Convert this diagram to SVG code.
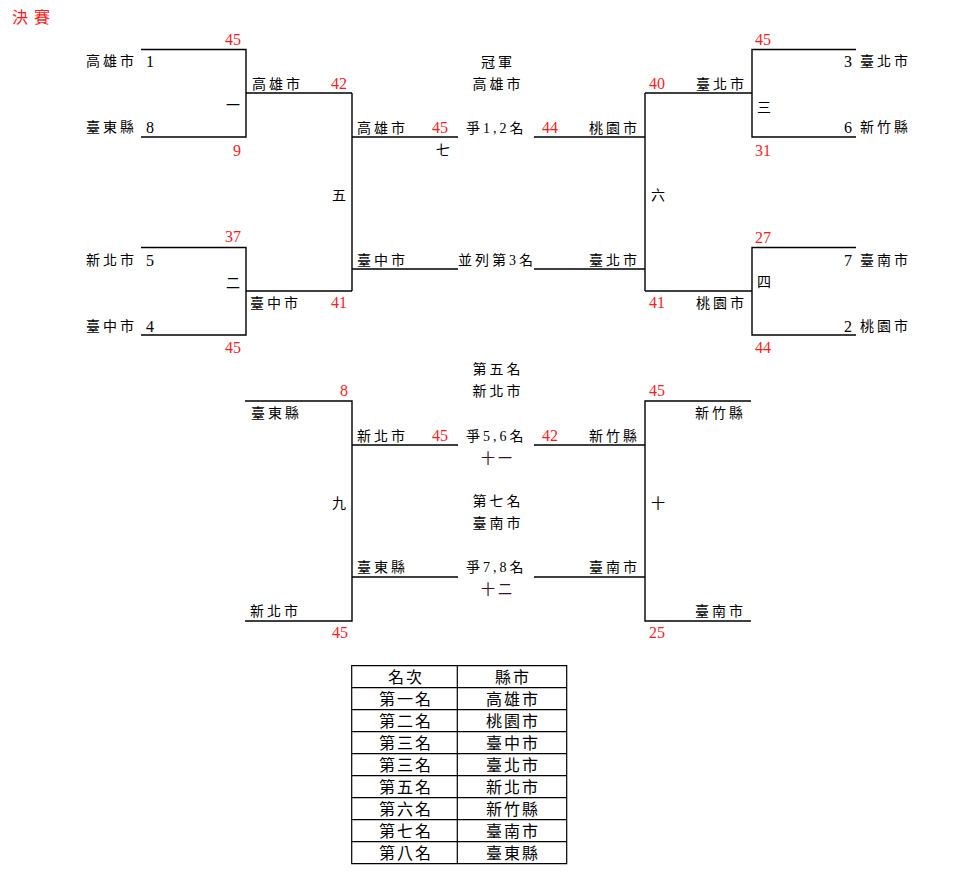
<svg xmlns="http://www.w3.org/2000/svg" width="958" height="886" viewBox="0 0 958 886">
<style>
text{font-family:'Liberation Serif','Noto Sans CJK TC',serif;font-size:14px;letter-spacing:3px;fill:#000}
.r{fill:#ff1a1a;font-size:16px;letter-spacing:0}
.n{font-size:16px;letter-spacing:0}
.c{text-anchor:middle}
.p{fill:#3d0f2f}
.ttl{fill:#ff1a1a;font-size:16px;letter-spacing:6px}
.tb{font-size:16px;letter-spacing:2px;text-anchor:middle}
.ln{fill:none;stroke:#000;stroke-width:1.4}
</style>
<rect width="958" height="886" fill="#fff"/>
<text class="ttl" x="12" y="23">決賽</text>
<g id="connectors" class="ln">
<path d="M141,49.5H246V137H141M246,93H352"/>
<path d="M141,247.5H246V335H141M246,291H352"/>
<path d="M352,93V291M352,137H458M352,269H458"/>
<path d="M534,137H645M534,269H645M645,93V291M645,93H752M645,291H752"/>
<path d="M856,49.5H752V137H856"/>
<path d="M856,247.5H752V335H856"/>
<path d="M245,401H352V621H245M352,445H458M352,577H458"/>
<path d="M534,445H645M534,577H645M751,401H645V621H751"/>
</g>
<g id="match1">
<text class="r" x="225" y="45">45</text>
<text x="86" y="66">高雄市</text><text class="n" x="146" y="67">1</text>
<text x="226" y="110">一</text>
<text x="86" y="132">臺東縣</text><text class="n" x="146" y="133">8</text>
<text class="r" x="233" y="156">9</text>
<text x="252" y="89">高雄市</text><text class="r" x="331" y="89">42</text>
</g>
<g id="match2">
<text class="r" x="225" y="242">37</text>
<text x="86" y="265">新北市</text><text class="n" x="146" y="266">5</text>
<text x="226" y="288">二</text>
<text x="86" y="331">臺中市</text><text class="n" x="146" y="332">4</text>
<text class="r" x="225" y="353">45</text>
<text x="250" y="308">臺中市</text><text class="r" x="331" y="308">41</text>
</g>
<g id="match5">
<text x="332" y="200">五</text>
<text x="357" y="133">高雄市</text><text class="r" x="432" y="133">45</text>
<text x="357" y="265">臺中市</text>
</g>
<g id="match7">
<text class="c" x="498" y="67">冠軍</text>
<text class="c" x="498" y="89">高雄市</text>
<text x="466" y="133">爭1,2名</text>
<text x="436" y="155">七</text>
<text x="458" y="265">並列第3名</text>
</g>
<g id="match6">
<text class="r" x="542" y="133">44</text><text x="589" y="133">桃園市</text>
<text x="589" y="265">臺北市</text>
<text x="651" y="200">六</text>
</g>
<g id="match3">
<text class="r" x="649" y="89">40</text><text x="696" y="89">臺北市</text>
<text class="r" x="755" y="45">45</text>
<text class="n" x="844" y="67">3</text><text x="860" y="66">臺北市</text>
<text x="757" y="112">三</text>
<text class="n" x="844" y="133">6</text><text x="860" y="132">新竹縣</text>
<text class="r" x="755" y="156">31</text>
</g>
<g id="match4">
<text class="r" x="755" y="243">27</text>
<text class="n" x="844" y="266">7</text><text x="860" y="265">臺南市</text>
<text x="757" y="287">四</text>
<text class="n" x="844" y="332">2</text><text x="860" y="331">桃園市</text>
<text class="r" x="755" y="353">44</text>
<text class="r" x="649" y="308">41</text><text x="696" y="308">桃園市</text>
</g>
<g id="match9">
<text class="r" x="340" y="396">8</text>
<text x="251" y="418">臺東縣</text>
<text x="332" y="508">九</text>
<text x="250" y="616">新北市</text>
<text class="r" x="332" y="638">45</text>
</g>
<g id="match11">
<text class="c" x="498" y="374">第五名</text>
<text class="c" x="498" y="396">新北市</text>
<text x="357" y="441">新北市</text><text class="r" x="432" y="441">45</text>
<text x="466" y="441">爭5,6名</text>
<text class="r" x="542" y="441">42</text><text x="589" y="441">新竹縣</text>
<text class="c p" x="498" y="463">十一</text>
</g>
<g id="match12">
<text class="c" x="498" y="506">第七名</text>
<text class="c" x="498" y="528">臺南市</text>
<text x="357" y="572">臺東縣</text>
<text x="466" y="572">爭7,8名</text>
<text x="589" y="572">臺南市</text>
<text class="c p" x="498" y="594">十二</text>
</g>
<g id="match10">
<text class="r" x="649" y="396">45</text>
<text x="695" y="418">新竹縣</text>
<text x="651" y="508">十</text>
<text x="695" y="616">臺南市</text>
<text class="r" x="649" y="638">25</text>
</g>
<g id="ranking">
<path class="ln" d="M351.7,665.7H566.7V863.7H351.7ZM457.3,665.7V863.7M351.7,687.7H566.7M351.7,709.7H566.7M351.7,731.7H566.7M351.7,753.7H566.7M351.7,775.7H566.7M351.7,797.7H566.7M351.7,819.7H566.7M351.7,841.7H566.7" style="stroke-width:1.2"/>
<text class="tb" x="406" y="683">名次</text><text class="tb" x="513" y="683">縣市</text>
<text class="tb" x="406" y="705">第一名</text><text class="tb" x="513" y="705">高雄市</text>
<text class="tb" x="406" y="727">第二名</text><text class="tb" x="513" y="727">桃園市</text>
<text class="tb" x="406" y="749">第三名</text><text class="tb" x="513" y="749">臺中市</text>
<text class="tb" x="406" y="771">第三名</text><text class="tb" x="513" y="771">臺北市</text>
<text class="tb" x="406" y="793">第五名</text><text class="tb" x="513" y="793">新北市</text>
<text class="tb" x="406" y="815">第六名</text><text class="tb" x="513" y="815">新竹縣</text>
<text class="tb" x="406" y="837">第七名</text><text class="tb" x="513" y="837">臺南市</text>
<text class="tb" x="406" y="859">第八名</text><text class="tb" x="513" y="859">臺東縣</text>
</g>
</svg>
